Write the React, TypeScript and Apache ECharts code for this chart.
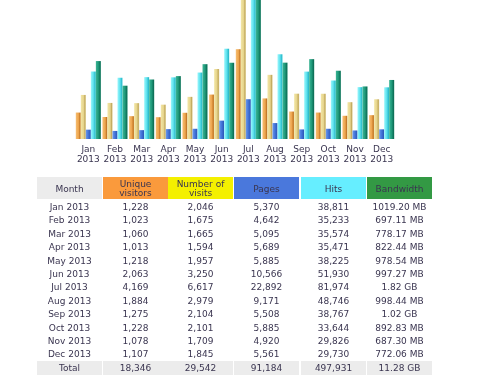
import React, { useEffect, useRef } from "react";
import * as echarts from "echarts";

const months = ["Jan", "Feb", "Mar", "Apr", "May", "Jun", "Jul", "Aug", "Sep", "Oct", "Nov", "Dec"];
const year = "2013";
const visitors = [1228, 1023, 1060, 1013, 1218, 2063, 4169, 1884, 1275, 1228, 1078, 1107];
const visits = [2046, 1675, 1665, 1594, 1957, 3250, 6617, 2979, 2104, 2101, 1709, 1845];
const pages = [5370, 4642, 5095, 5689, 5885, 10566, 22892, 9171, 5508, 5885, 4920, 5561];
const hits = [38811, 35233, 35574, 35471, 38225, 51930, 81974, 48746, 38767, 33644, 29826, 29730];
const bandwidthMB = [1019.2, 697.11, 778.17, 822.44, 978.54, 997.27, 1863.68, 998.44, 1044.48, 892.83, 687.3, 772.06];
const bandwidthLabels = ["1019.20 MB", "697.11 MB", "778.17 MB", "822.44 MB", "978.54 MB", "997.27 MB", "1.82 GB", "998.44 MB", "1.02 GB", "892.83 MB", "687.30 MB", "772.06 MB"];
const headers = ["Month", "Unique\nvisitors", "Number of\nvisits", "Pages", "Hits", "Bandwidth"];
const totals = ["Total", "18,346", "29,542", "91,184", "497,931", "11.28 GB"];

const headerColors = ["#ECECEC", "#FA9A3C", "#F4F000", "#4A78DC", "#66EEFF", "#339944"];
const FONT = "DejaVu Sans, Verdana, sans-serif";
const TXT = "#3a3550";

const fmt = (n: number) => n.toLocaleString("en-US");

function grad(stops: [number, string][]) {
  return new echarts.graphic.LinearGradient(0, 0, 1, 0, stops.map(([offset, color]) => ({ offset, color })));
}

export default function App() {
  const ref = useRef<HTMLDivElement>(null);
  useEffect(() => {
    if (!ref.current) return;
    const chart = echarts.init(ref.current, null, { renderer: "svg" });
    const ratio = 139 / 142.5;

    const colX = [37, 103, 168, 234, 301, 367];
    const colW = 65;
    const graphics: any[] = [];
    const txt = (text: string, cx: number, cy: number, extra: any = {}) => ({
      type: "text",
      style: {
        text,
        x: cx,
        y: cy,
        fill: TXT,
        fontSize: 9,
        fontFamily: FONT,
        align: "center",
        verticalAlign: "middle",
        textAlign: "center",
        textVerticalAlign: "middle",
        lineHeight: 9.5,
        ...extra,
      },
    });
    headers.forEach((h, i) => {
      graphics.push({ type: "rect", shape: { x: colX[i], y: 177, width: colW, height: 22 }, style: { fill: headerColors[i] } });
      graphics.push(txt(h, colX[i] + colW / 2, 188.5));
    });
    months.forEach((m, r) => {
      const cy = 207 + r * 13.4;
      const row = [`${m} ${year}`, fmt(visitors[r]), fmt(visits[r]), fmt(pages[r]), fmt(hits[r]), bandwidthLabels[r]];
      row.forEach((v, i) => graphics.push(txt(v, colX[i] + colW / 2, cy)));
    });
    totals.forEach((v, i) => {
      graphics.push({ type: "rect", shape: { x: colX[i], y: 361, width: colW, height: 14 }, style: { fill: "#ECECEC" } });
      graphics.push(txt(v, colX[i] + colW / 2, 368.3));
    });

    const bar = (name: string, data: number[], yAxisIndex: number, color: any) => ({
      name,
      type: "bar",
      data,
      yAxisIndex,
      barGap: "0%",
      barCategoryGap: "6%",
      itemStyle: { color },
    });

    const yAxis = (max: number) => ({
      type: "value",
      min: 0,
      max: max * ratio,
      show: false,
      splitLine: { show: false },
    });

    chart.setOption({
      animation: false,
      grid: { left: 75, width: 320, top: 0, height: 139 },
      xAxis: {
        type: "category",
        data: months,
        axisLine: { show: false },
        axisTick: { show: false },
        axisLabel: {
          formatter: (v: string) => `${v}\n${year}`,
          color: TXT,
          fontSize: 9,
          fontFamily: FONT,
          lineHeight: 10,
          margin: 5,
          interval: 0,
        },
      },
      yAxis: [yAxis(Math.max(...visits)), yAxis(Math.max(...hits)), yAxis(Math.max(...bandwidthMB))],
      series: [
        bar("Unique visitors", visitors, 0, grad([[0, "#F6BE72"], [0.55, "#EDA44C"], [0.8, "#C47A2A"], [1, "#D8923E"]])),
        bar("Number of visits", visits, 0, grad([[0, "#F2E6A6"], [0.55, "#E6D48C"], [0.8, "#C4AC62"], [1, "#D6C27A"]])),
        bar("Pages", pages, 1, grad([[0, "#6A98EC"], [0.5, "#4274D8"], [1, "#2A52B4"]])),
        bar("Hits", hits, 1, grad([[0, "#9AF6FC"], [0.5, "#5EE2EE"], [0.85, "#2EBCCC"], [1, "#44CCD8"]])),
        bar("Bandwidth", bandwidthMB, 2, grad([[0, "#3CB494"], [0.5, "#1E9A7A"], [0.85, "#0E7058"], [1, "#188466"]])),
      ],
      graphic: graphics,
    });
    return () => chart.dispose();
  }, []);
  return <div ref={ref} style={{ position: "fixed", left: 0, top: 0, width: 479, height: 385 }} />;
}
